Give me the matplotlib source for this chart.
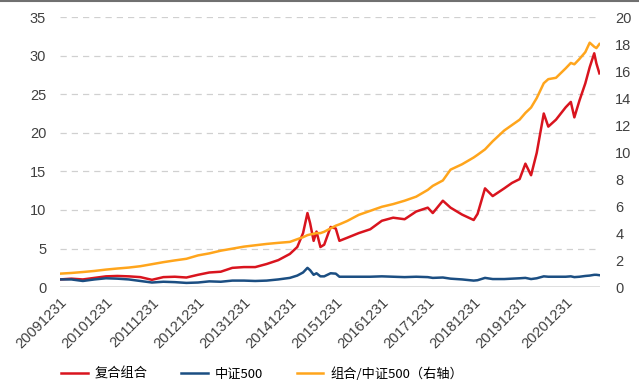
import matplotlib
matplotlib.use("Agg")
import matplotlib.pyplot as plt
import matplotlib.dates as mdates
import pandas as pd

plt.rcParams['font.family'] = ['Liberation Sans', 'Noto Sans CJK SC', 'DejaVu Sans']

# values
dates = [
    "2009-12-31", "2010-03-31", "2010-06-30", "2010-09-30", "2010-12-31",
    "2011-03-31", "2011-06-30", "2011-09-30", "2011-12-31", "2012-03-31",
    "2012-06-30", "2012-09-30", "2012-12-31", "2013-03-31", "2013-06-30",
    "2013-09-30", "2013-12-31", "2014-03-31", "2014-06-30", "2014-09-30",
    "2014-12-31", "2015-02-28", "2015-04-15", "2015-05-20", "2015-06-10",
    "2015-07-08", "2015-07-31", "2015-08-31", "2015-09-30", "2015-11-20",
    "2015-12-31", "2016-01-29", "2016-03-31", "2016-06-30", "2016-09-30",
    "2016-12-31", "2017-03-31", "2017-06-30", "2017-09-30", "2017-12-31",
    "2018-02-09", "2018-04-30", "2018-06-30", "2018-09-30", "2018-12-31",
    "2019-01-31", "2019-03-31", "2019-05-31", "2019-08-31", "2019-10-31",
    "2019-12-31", "2020-02-15", "2020-03-31", "2020-05-15", "2020-07-10",
    "2020-08-15", "2020-10-15", "2020-12-31", "2021-02-10", "2021-03-10",
    "2021-04-20", "2021-06-05", "2021-07-10", "2021-08-15", "2021-09-01",
    "2021-09-25",
]
composite = [
    1.0, 1.1, 1.0, 1.2, 1.4,
    1.45, 1.4, 1.3, 0.95, 1.3,
    1.35, 1.25, 1.6, 1.9, 2.0,
    2.5, 2.6, 2.6, 3.0, 3.5,
    4.3, 5.2, 7.0, 9.6, 8.3,
    6.0, 7.2, 5.2, 5.5, 7.8,
    7.6, 6.0, 6.4, 7.0, 7.5,
    8.6, 9.0, 8.8, 9.8, 10.3,
    9.6, 11.2, 10.3, 9.4, 8.7,
    9.5, 12.8, 11.8, 12.8, 13.5,
    14.0, 16.0, 14.5, 17.4, 22.5,
    20.8, 21.7, 23.3, 24.0, 22.0,
    24.2, 26.4, 28.5, 30.3, 29.0,
    27.7,
]
csi500 = [
    1.0, 1.0, 0.8, 1.0, 1.15,
    1.1, 1.0, 0.8, 0.6, 0.7,
    0.65, 0.55, 0.6, 0.75, 0.7,
    0.85, 0.85, 0.8, 0.85, 1.0,
    1.2, 1.5, 1.9, 2.5, 2.2,
    1.6, 1.8, 1.4, 1.4, 1.8,
    1.75, 1.35, 1.35, 1.35, 1.35,
    1.4, 1.35, 1.3, 1.35, 1.3,
    1.2, 1.25, 1.1, 1.0, 0.85,
    0.9, 1.2, 1.05, 1.05, 1.1,
    1.15, 1.2, 1.05, 1.15, 1.4,
    1.35, 1.35, 1.35, 1.4, 1.3,
    1.35, 1.45, 1.5, 1.6, 1.6,
    1.55,
]
ratio = [
    1.0, 1.05, 1.12, 1.2, 1.3,
    1.38, 1.45, 1.55, 1.7, 1.85,
    1.98, 2.1, 2.35, 2.5, 2.7,
    2.85, 3.0, 3.1, 3.2, 3.28,
    3.35, 3.55, 3.7, 3.85, 3.9,
    3.95, 4.0, 4.0, 4.1, 4.35,
    4.55, 4.65, 4.9, 5.35, 5.65,
    5.95, 6.15, 6.4, 6.7, 7.2,
    7.5, 7.9, 8.7, 9.1, 9.6,
    9.8, 10.2, 10.8, 11.6, 12.0,
    12.4, 12.9, 13.3, 14.0, 15.1,
    15.4, 15.5, 16.2, 16.6, 16.5,
    16.9, 17.4, 18.1, 17.8, 17.7,
    18.0,
]
year_ticks = ["%d-12-31" % y for y in range(2009, 2021)]
legend_labels = ["复合组合", "中证500", "组合/中证500（右轴）"]

x = pd.to_datetime(dates)

fig = plt.figure(figsize=(6.39, 3.87), dpi=100)
ax = fig.add_axes([0.094, 0.258, 0.845, 0.698])
ax2 = ax.twinx()

l1, = ax.plot(x, composite, color="#D9141E", lw=1.8)
l2, = ax.plot(x, csi500, color="#1B4E82", lw=1.8)
l3, = ax2.plot(x, ratio, color="#FFA51C", lw=1.8)

ax.set_ylim(0, 35)
ax.set_yticks(range(0, 36, 5))
ax2.set_ylim(0, 20)
ax2.set_yticks(range(0, 21, 2))
ax.set_xlim(x[0], x[-1] + pd.Timedelta(days=5))

ax.set_xticks(pd.to_datetime(year_ticks))
ax.xaxis.set_major_formatter(mdates.DateFormatter("%Y%m%d"))
for lab in ax.get_xticklabels():
    lab.set_rotation(45)
    lab.set_ha("right")
    lab.set_rotation_mode("anchor")

for a in (ax, ax2):
    for s in a.spines.values():
        s.set_visible(False)
    a.tick_params(length=0, labelsize=10.5, colors="#404040")
ax.tick_params(axis="x", labelsize=10.5, pad=6)
ax.tick_params(axis="y", pad=10)
ax2.tick_params(axis="y", pad=11)

for v in range(5, 36, 5):
    ax.axhline(v, color="#D0D0D0", lw=0.9, ls=(0, (5, 4)), zorder=0)
ax.axhline(0, color="#D9D9D9", lw=1.2, zorder=0)

fig.legend([l1, l2, l3], legend_labels, loc="lower center",
           bbox_to_anchor=(0.41, -0.015), ncol=3, frameon=False,
           handlelength=2.0, columnspacing=2.6, handletextpad=0.5,
           prop={"family": ["Noto Sans CJK SC", "DejaVu Sans"], "size": 9.5})

fig.add_artist(plt.Line2D([0, 1], [0.997, 0.997], color="#707070", lw=1.5,
                          transform=fig.transFigure))

fig.savefig("out.png", dpi=100)
